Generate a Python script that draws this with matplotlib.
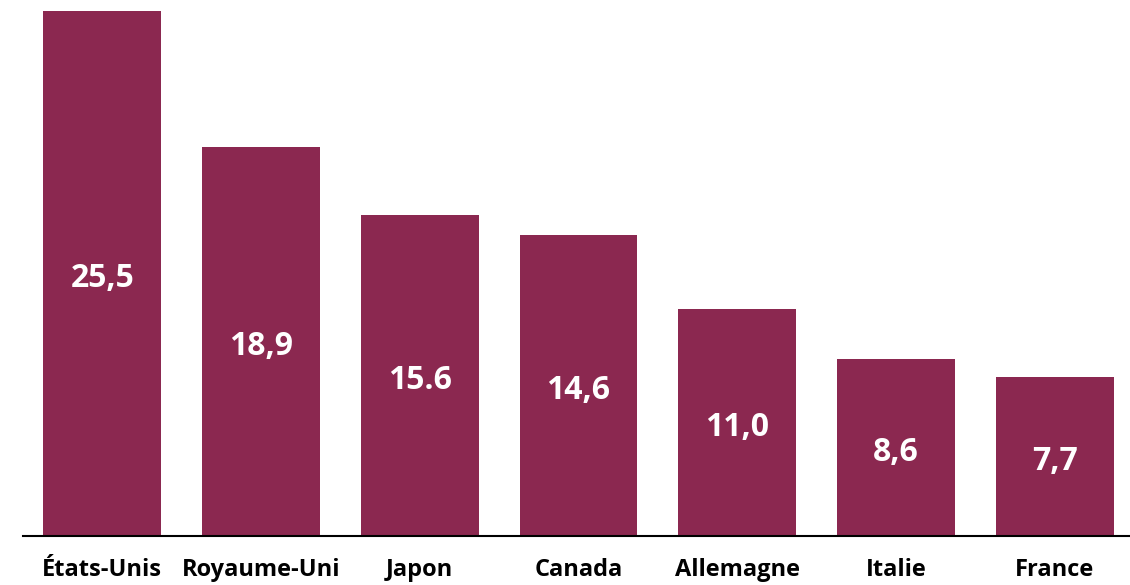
import matplotlib.pyplot as plt

# Data
pays = ['États-Unis', 'Royaume-Uni', 'Japon', 'Canada', 'Allemagne', 'Italie', 'France']
valeurs = [25.5, 18.9, 15.6, 14.6, 11.0, 8.6, 7.7]
etiquettes = ['25,5', '18,9', '15.6', '14,6', '11,0', '8,6', '7,7']

couleur = '#8B2850'
police = ['Open Sans', 'DejaVu Sans']

fig = plt.figure(figsize=(11.3, 5.85), dpi=100)
ax = fig.add_axes([23 / 1130, 49 / 585, 1111 / 1130, 536 / 585])

x = range(len(pays))
bars = ax.bar(x, valeurs, width=0.742, color=couleur)

for b, txt in zip(bars, etiquettes):
    ax.text(b.get_x() + b.get_width() / 2, b.get_height() / 2 - 0.25, txt,
            ha='center', va='center', color='white', fontsize=23,
            fontweight='bold', family=police)

ax.set_xlim(-0.5, 6.5)
ax.set_ylim(0, 26.03)
ax.set_xticks(list(x))
ax.set_xticklabels(pays, fontsize=17, fontweight='bold', family=police)
ax.tick_params(axis='x', length=0, pad=16)
ax.set_yticks([])
for s in ['top', 'right', 'left']:
    ax.spines[s].set_visible(False)
ax.spines['bottom'].set_linewidth(1.5)
ax.spines['bottom'].set_color('black')

plt.savefig('out.png', dpi=100)
